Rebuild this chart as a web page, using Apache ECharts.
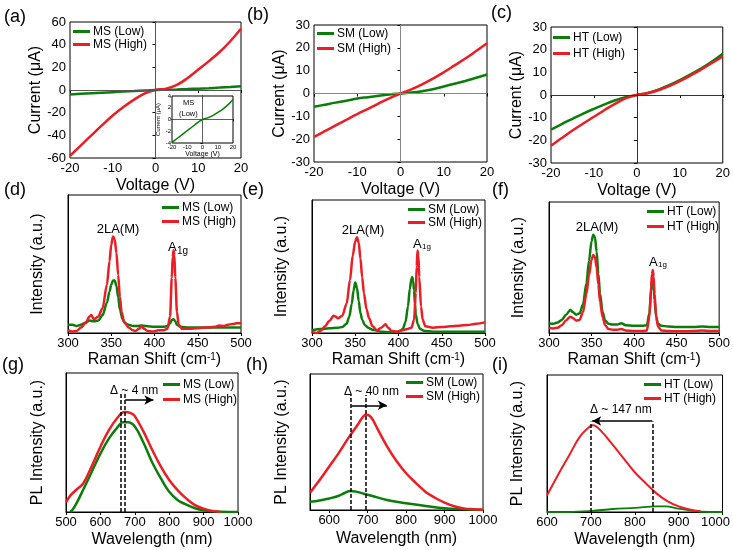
<!DOCTYPE html>
<html><head><meta charset="utf-8">
<script src="https://cdn.jsdelivr.net/npm/echarts@6/dist/echarts.min.js"></script>
<style>html,body{margin:0;padding:0;background:#fff}#c{width:733px;height:550px}</style>
</head><body><div id="c"></div>
<script>
// ---------- I-V data (a,b,c) ----------
const voltage  = [-20,-17.5,-15,-12.5,-10,-7.5,-5,-2.5,0,2.5,5,7.5,10,12.5,15,17.5,20];
const msLowIV  = [-3.9,-3.4,-2.9,-2.4,-1.9,-1.4,-0.9,-0.4,0,0.2,0.45,0.8,1.2,1.6,2.1,2.7,3.4];
const msHighIV = [-58,-49,-40,-31,-22.5,-15,-8.5,-3,0,1.2,4.5,10.5,18,25.5,33.5,43,54];
const smLowIV  = [-5.8,-4.9,-4,-3.2,-2.2,-1.6,-1,-0.4,0,0.4,1,1.9,3.1,4.3,5.5,6.9,8.3];
const smHighIV = [-19,-16.5,-14,-11.5,-9,-6.7,-4.3,-2,0,1.8,4,6.5,9.3,12.3,15.3,18.6,22];
const htLowIV  = [-15.3,-12.8,-10.5,-8.2,-6.1,-4.1,-2.3,-0.9,0,0.9,2.4,4.3,6.6,9.1,11.8,14.8,18.2];
const htHighIV = [-22.4,-19,-15.7,-12.6,-9.6,-6.6,-3.8,-1.4,0,0.8,2.1,3.9,6.1,8.6,11.3,14.1,17];

// ---------- Raman data (d,e,f) ----------
const msLowRx  = [300,305,310,315,320,325,330,335,340,345,348,350,352,354,356,358,360,363,366,370,375,380,385,390,400,410,415,418,420,422,424,426,430,440,450,460,470,480,490,500];
const msLowRy  = [6,6,5,6,7.5,9,8.5,9,13,22,30,35,38,38,34,26,17,10,7,6,5,5,5.5,5,4.5,4.5,5,7,9.5,10,8.5,6,4.5,4,4,4,4,4,4,4];
const msHighRx = [300,305,310,315,320,325,327,330,335,340,345,348,350,352,354,356,358,360,362,365,370,375,378,382,385,388,392,398,405,410,415,418,420,421,422,423,424,426,428,432,440,450,460,470,475,480,485,490,495,500];
const msHighRy = [2,1,1.5,4,7,12,13,10,12,18,35,52,64,70,68,58,42,26,15,8,4,2,1.5,3,5,3,1.5,1,2,2,3,12,40,55,60,56,40,15,6,3,3,3.5,4,4.5,5.5,5,6,6.5,7,7];
const smLowRx  = [300,310,320,330,335,340,343,346,348,350,352,354,356,358,361,365,370,380,390,400,405,408,411,413,415,416,417,418,419,420,422,425,430,440,460,480,500];
const smLowRy  = [2,3,3.5,4,4.5,7,12,22,32,38,34,24,15,10,6,4,2.5,1,0.5,1,3,8,20,33,41,42,39,32,22,14,7,3,1.5,1,1,1,1];
const smHighRx = [300,305,310,315,320,325,327,330,335,340,344,347,350,352,354,356,358,360,363,366,370,375,380,385,388,392,398,405,410,415,418,420,421,422,423,424,426,428,431,440,450,460,470,480,490,500];
const smHighRy = [1,0,1.5,5,9,13,12.5,11,13,22,40,58,69,72,68,56,42,30,18,11,5,2,4,6.5,4,1.5,1,2,3,4,10,30,50,62,58,42,20,10,5,4,4.5,5,5.5,6,7,8];
const htRx     = [300,305,310,315,320,325,328,332,336,340,344,347,350,352,354,356,358,360,363,366,370,375,380,385,390,400,410,415,418,420,421,422,423,424,426,428,432,440,450,460,470,480,490,500];
const htLowRy  = [7.5,7,8,10,14,17.5,16,14,15,22,38,55,70,75,73,62,45,30,16,9.5,7,6.5,6.5,7.5,6,5.5,5.5,6,15,32,39,40,36,25,12,7,5.5,5,4.5,4.5,4.5,5,4.5,4.5];
const htHighRy = [4,3.5,4,6,9.5,12.5,11.5,9.5,10,16,30,44,56,59.5,58,50,37,24,12,6,3,2.5,2.5,3,2,1.5,1.5,2,12,35,45,48,43,30,13,5,2,1.5,1.3,1.3,1.5,2,1.5,1.5];

// ---------- PL data (g,h,i) ----------
const msLowPx  = [512,520,530,550,575,600,625,650,665,680,700,725,750,775,800,825,850,875,900,925,950,1000];
const msLowPy  = [0,2,6,16,29,42,53,61,64.5,64.5,61.5,50,36,24.5,14.5,8.5,5.3,2.7,1.2,0.5,0.2,0];
const msHighPx = [500,510,515,530,550,575,600,625,650,670,690,700,725,750,775,800,825,850,875,900,925,950];
const msHighPy = [7,11,12.5,16,20.5,33,47,59,68,72,71,69,58,45,33,23,15.5,9.6,5,2.4,0.8,0];
const smLowPx  = [550,575,600,625,640,655,670,690,710,750,800,850,900,950,1000];
const smLowPy  = [6,7,8.5,10.5,12.5,14,13.5,12,10.5,7.4,5,3,1.2,0.5,0];
const smHighPx = [550,575,600,625,650,675,685,695,705,715,725,750,775,800,825,850,875,900,925,950,975,1000];
const smHighPy = [12.7,22,32,42,53,63,67.5,70,69.3,65.5,60,47,36,27,20,13.5,9,5.4,2.8,1.2,0.6,0.3];
const htLowPx  = [600,650,700,750,800,850,870,900,925,950,1000];
const htLowPy  = [0,0,0.7,2.2,3,4.1,4.1,2.4,1.2,0.2,0];
const htHighPx = [600,625,650,675,700,705,725,750,775,800,825,850,875,900,925,950];
const htHighPy = [12,27,41,55,63,63.4,58.5,49,39,29,21,13.4,7.8,4.1,1.8,0.5];

const ivTicks = [-20,-10,0,10,20];
const ramanTicks = [300,350,400,450,500];
const plTicksG = [500,600,700,800,900,1000];
const plTicksH = [600,700,800,900,1000];
const plTicksI = [600,700,800,900,1000];

const RED = '#ee1c24', GREEN = '#0b7d0b';
const FF = '"Liberation Sans", Arial, sans-serif';

const grids = [
  {left:70, top:22, width:171, height:136},
  {left:314, top:25, width:173, height:137},
  {left:551, top:27, width:172, height:136},
  {left:68, top:195, width:173, height:138},
  {left:312, top:200, width:173, height:133},
  {left:549, top:202, width:173, height:131},
  {left:66, top:373, width:172, height:139},
  {left:310, top:374, width:173, height:136},
  {left:547, top:375, width:182, height:137},
  {left:172, top:96, width:61, height:47, z:5, backgroundColor:'#fff'}
].map(g => Object.assign({show:true, borderColor:'#000', borderWidth:1, containLabel:false}, g));

const axLine = {show:true, lineStyle:{color:'#000', width:1}};
function xAx(i, min, max, ticks, name, extra) {
  return Object.assign({
    type:'value', gridIndex:i, min, max, splitLine:{show:false},
    axisLine:axLine, axisTick:{show:true, length:3, customValues:ticks, lineStyle:{color:'#000'}},
    axisLabel:{customValues:ticks, fontSize:13, color:'#000', margin:4, fontFamily:FF, formatter: v => String(v)},
    name, nameLocation:'middle', nameGap:20, nameTextStyle:{fontSize:16, color:'#000', fontFamily:FF}
  }, extra || {});
}
function yAx(i, min, max, ticks, name, gap, showLabels) {
  return {
    type:'value', gridIndex:i, min, max, splitLine:{show:false},
    axisLine:axLine,
    axisTick:{show:!!showLabels, length:3, customValues:ticks, lineStyle:{color:'#000'}},
    minorTick:{show:false},
    axisLabel:{show:!!showLabels, customValues:ticks, fontSize:13, color:'#000', margin:4, fontFamily:FF},
    name, nameLocation:'middle', nameGap:gap, nameTextStyle:{fontSize:16, color:'#000', fontFamily:FF}
  };
}
const ramanName = 'Raman Shift (cm{sup|-1})';
const ramanNameStyle = {fontSize:16, color:'#000', fontFamily:FF, rich:{sup:{fontSize:10, color:'#000', fontFamily:FF, verticalAlign:'top'}}};

const xAxes = [
  xAx(0,-20,20,ivTicks,'Voltage (V)'),
  xAx(1,-20,20,ivTicks,'Voltage (V)'),
  xAx(2,-20,20,ivTicks,'Voltage (V)'),
  xAx(3,300,500,ramanTicks,ramanName,{nameGap:19,nameTextStyle:ramanNameStyle}),
  xAx(4,300,500,ramanTicks,ramanName,{nameGap:19,nameTextStyle:ramanNameStyle}),
  xAx(5,300,500,ramanTicks,ramanName,{nameGap:19,nameTextStyle:ramanNameStyle}),
  xAx(6,500,1000,plTicksG,'Wavelength (nm)',{nameGap:20}),
  xAx(7,550,1000,plTicksH,'Wavelength (nm)',{nameGap:21}),
  xAx(8,600,1000,plTicksI,'Wavelength (nm)',{nameGap:20, axisLabel:{customValues:plTicksI, fontSize:13, color:'#000', margin:4, fontFamily:FF,
      formatter: v => v === 1000 ? '{r|1000}' : String(v), rich:{r:{fontSize:13, color:'#000', fontFamily:FF, padding:[0,14,0,0]}}}}),
  xAx(9,-20,20,ivTicks,'Voltage (V)',{nameGap:5, nameTextStyle:{fontSize:7,color:'#000',fontFamily:FF},
      axisTick:{show:true,length:2,customValues:ivTicks,lineStyle:{color:'#000'}},
      axisLabel:{customValues:ivTicks,fontSize:6,color:'#000',margin:1,fontFamily:FF,formatter: v => String(v)}})
];
const yAxes = [
  yAx(0,-60,60,[-60,-40,-20,0,20,40,60],'Current (μA)',23,true),
  yAx(1,-30,30,[-30,-20,-10,0,10,20,30],'Current (μA)',26,true),
  yAx(2,-30,30,[-30,-20,-10,0,10,20,30],'Current (μA)',25,true),
  yAx(3,0,100,[],'Intensity (a.u.)',22,false),
  yAx(4,0,100,[],'Intensity (a.u.)',22,false),
  yAx(5,0,100,[],'Intensity (a.u.)',22,false),
  yAx(6,0,100,[],'PL Intensity (a.u.)',20,false),
  yAx(7,0,100,[],'PL Intensity (a.u.)',20,false),
  yAx(8,0,100,[],'PL Intensity (a.u.)',21,false),
  Object.assign(yAx(9,-4,4,[-4,-2,0,2,4],'Current (μA)',5,true),{
      nameTextStyle:{fontSize:6,color:'#000',fontFamily:FF},
      axisTick:{show:true,length:2,customValues:[-4,-2,0,2,4],lineStyle:{color:'#000'}},
      axisLabel:{customValues:[-4,-2,0,2,4],fontSize:6,color:'#000',margin:1,fontFamily:FF}})
];

function ser(name, xs, ys, idx, color, width, extra) {
  const raman = (idx >= 3 && idx <= 5);
  const s = {
    type:'line', name, xAxisIndex:idx, yAxisIndex:idx,
    data: xs.map((x,k)=>[x, ys[k]]), showSymbol:false, symbol:'none',
    smooth: raman ? 0.3 : 0.4, clip:true,
    lineStyle:{color, width}, itemStyle:{color}, z: idx===9 ? 8 : 2
  };
  if (raman) s.smoothMonotone = 'x';
  return Object.assign(s, extra || {});
}
function zeroLines(col) {
  return {silent:true, symbol:['none','none'], label:{show:false}, animation:false,
    lineStyle:{color:col, width:1, type:'solid'}, emphasis:{disabled:true},
    data:[{xAxis:0},{yAxis:0}]};
}
function dashV(x, top) {
  return [{coord:[x,0], symbol:'none'},{coord:[x,top], symbol:'none'}];
}
function arrow(x1, x2, y) {
  return [{coord:[x1,y], symbol:'none', lineStyle:{type:'solid', width:1.5, color:'#000'}},
          {coord:[x2,y], symbol:'arrow', symbolSize:[7,9]}];
}
function plMarks(items) {
  return {silent:true, symbol:['none','none'], label:{show:false}, animation:false,
    lineStyle:{color:'#000', width:1.5, type:[4,2]}, emphasis:{disabled:true}, data:items};
}

const series = [
  ser('MS (Low)', voltage, msLowIV, 0, GREEN, 2.5, {markLine: zeroLines('#555')}),
  ser('MS (High)', voltage, msHighIV, 0, RED, 2.5),
  ser('SM (Low)', voltage, smLowIV, 1, GREEN, 2.5, {markLine: zeroLines('#888')}),
  ser('SM (High)', voltage, smHighIV, 1, RED, 2.5),
  ser('HT (Low)', voltage, htLowIV, 2, GREEN, 2.5, {markLine: zeroLines('#333')}),
  ser('HT (High)', voltage, htHighIV, 2, RED, 2.5),
  ser('MS (Low)', msLowRx, msLowRy, 3, GREEN, 2.5),
  ser('MS (High)', msHighRx, msHighRy, 3, RED, 2.5),
  ser('SM (Low)', smLowRx, smLowRy, 4, GREEN, 2.5),
  ser('SM (High)', smHighRx, smHighRy, 4, RED, 2.5),
  ser('HT (Low)', htRx, htLowRy, 5, GREEN, 2.5),
  ser('HT (High)', htRx, htHighRy, 5, RED, 2.5),
  ser('MS (Low)', msLowPx, msLowPy, 6, GREEN, 2.5),
  ser('MS (High)', msHighPx, msHighPy, 6, RED, 2.5, {markLine: plMarks([dashV(659,86), dashV(672,86), arrow(672,754,80.6)])}),
  ser('SM (Low)', smLowPx, smLowPy, 7, GREEN, 2.5),
  ser('SM (High)', smHighPx, smHighPy, 7, RED, 2.5, {markLine: plMarks([dashV(655,84.5), dashV(695,84.5), arrow(658,750,77)])}),
  ser('HT (Low)', htLowPx, htLowPy, 8, GREEN, 1.8),
  ser('HT (High)', htHighPx, htHighPy, 8, RED, 2, {markLine: plMarks([dashV(700,66), dashV(840,66), arrow(840,703,66.4)])}),
  ser('inset', voltage, msLowIV, 9, GREEN, 1.5, {markLine: Object.assign(zeroLines('#333'),{lineStyle:{color:'#333',width:0.8,type:'solid'}})})
];

function leg(left, top, names, gap) {
  return {show:true, orient:'vertical', left, top, itemWidth:17, itemHeight:3, icon:'rect',
    itemGap:gap, selectedMode:false, data:names, padding:0,
    textStyle:{fontSize:12, color:'#000', fontFamily:FF, lineHeight:13, padding:[0,0,0,-2]}};
}
const legends = [
  leg(73, 25, ['MS (Low)','MS (High)'], 0),
  leg(317, 27, ['SM (Low)','SM (High)'], 2),
  leg(553, 31, ['HT (Low)','HT (High)'], 3),
  leg(162, 201, ['MS (Low)','MS (High)'], 1),
  leg(408, 203, ['SM (Low)','SM (High)'], 0),
  leg(647, 205, ['HT (Low)','HT (High)'], 2),
  leg(163, 378, ['MS (Low)','MS (High)'], 2),
  leg(406, 376, ['SM (Low)','SM (High)'], 1),
  leg(644, 378, ['HT (Low)','HT (High)'], 1)
];

function txt(x, y, t, size, align) {
  return {type:'text', x, y, z:20, silent:true,
    style:{text:t, fontSize:size, fontFamily:FF, fill:'#000', align:align||'left', verticalAlign:'middle'}};
}
const graphics = [
  txt(4,17,'(a)',18), txt(247,15,'(b)',18), txt(491,13,'(c)',18),
  txt(4,190,'(d)',18), txt(242,190,'(e)',18), txt(492,190,'(f)',18),
  txt(2,365,'(g)',18), txt(246,365,'(h)',18), txt(492,365,'(i)',18),
  txt(118,229,'2LA(M)',13,'center'), txt(168,247,'A',13), txt(177,251,'1g',10),
  txt(363,230,'2LA(M)',13,'center'), txt(413,244,'A',13), txt(422,247,'1g',8),
  txt(597,227,'2LA(M)',13,'center'), txt(649,262,'A',13), txt(658,265,'1g',8),
  txt(110,391,'Δ ~ 4 nm',12), txt(344,392,'Δ ~ 40 nm',12), txt(590,410,'Δ ~ 147 nm',12),
  txt(183,103,'MS',7.5), txt(179,114,'(Low)',7.5)
];

const chart = echarts.init(document.getElementById('c'), null, {renderer:'canvas'});
chart.setOption({
  animation:false, backgroundColor:'#fff',
  textStyle:{fontFamily:FF},
  grid:grids, xAxis:xAxes, yAxis:yAxes, series, legend:legends, graphic:graphics
});
</script></body></html>
